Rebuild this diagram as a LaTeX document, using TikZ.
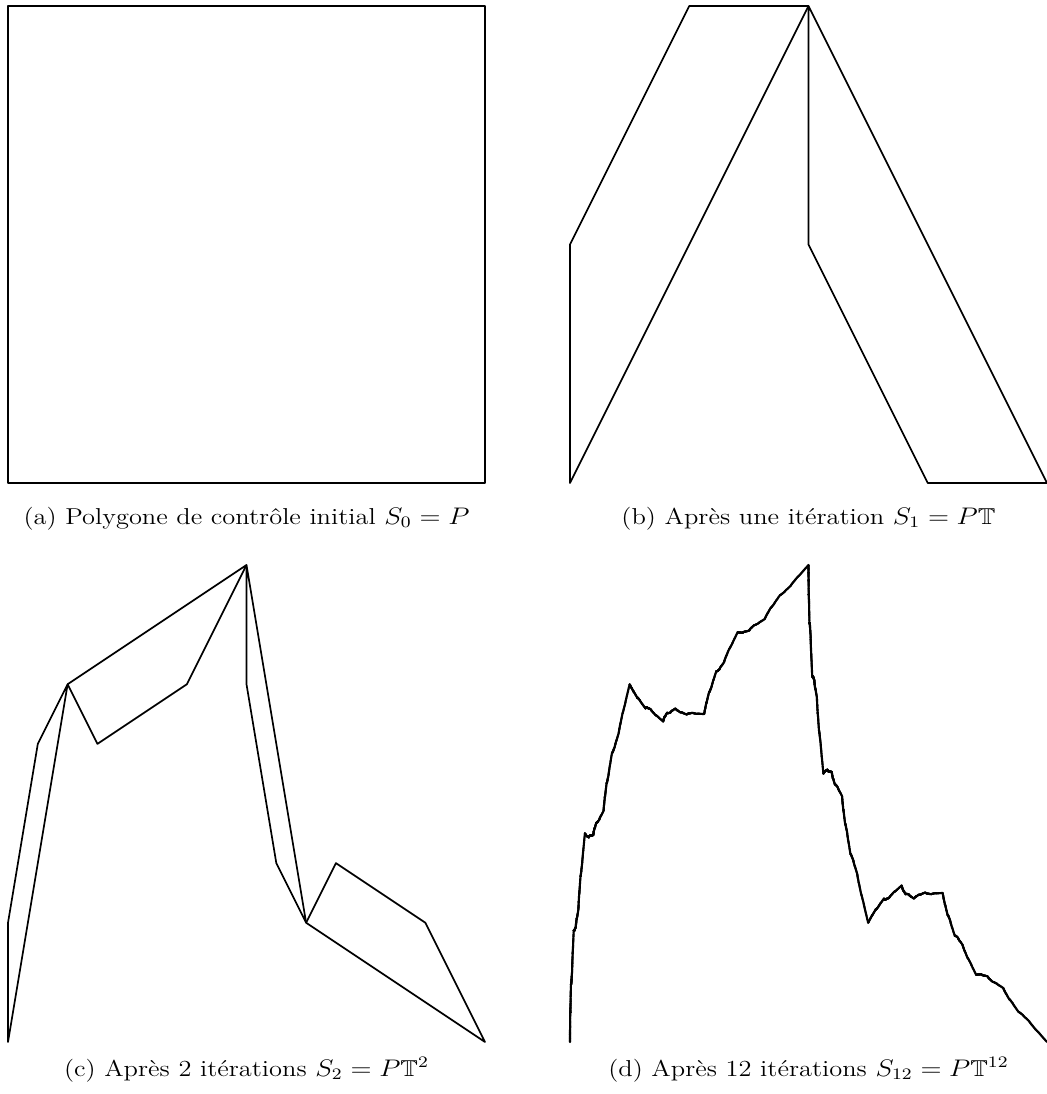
\documentclass[tikz,border=0pt]{standalone}
\usepackage{amssymb}
\usepackage{graphicx}
% leaf: closed control polygon of 4 points (coordinates in sp, y up)
\def\leafquad#1#2#3#4#5#6#7#8{%
  \pgfpathmoveto{\pgfqpoint{#1sp}{#2sp}}%
  \pgfpathlineto{\pgfqpoint{#3sp}{#4sp}}%
  \pgfpathlineto{\pgfqpoint{#5sp}{#6sp}}%
  \pgfpathlineto{\pgfqpoint{#7sp}{#8sp}}%
  \pgfpathclose
  \pgfusepath{stroke}%
}
% subdivision: T0 = [X0, (X0+X1)/2, (3X1+X2)/4, (X1+X2)/2]
%              T1 = [(X1+X2)/2, (X0+X1+X2+X3)/4, (X0+3X3)/4, X3]
\def\subdiv#1#2#3#4#5#6#7#8#9{%
  \ifnum#1=0
    \def\subdivnext{\leafquad{#2}{#3}{#4}{#5}{#6}{#7}{#8}{#9}}%
  \else
    \edef\subdivnext{%
      \noexpand\subdiv{\the\numexpr#1-1\relax}%
        {#2}{#3}%
        {\the\numexpr(#2+#4)/2\relax}{\the\numexpr(#3+#5)/2\relax}%
        {\the\numexpr(3*#4+#6)/4\relax}{\the\numexpr(3*#5+#7)/4\relax}%
        {\the\numexpr(#4+#6)/2\relax}{\the\numexpr(#5+#7)/2\relax}%
      \noexpand\subdiv{\the\numexpr#1-1\relax}%
        {\the\numexpr(#4+#6)/2\relax}{\the\numexpr(#5+#7)/2\relax}%
        {\the\numexpr(#2+#4+#6+#8)/4\relax}{\the\numexpr(#3+#5+#7+#9)/4\relax}%
        {\the\numexpr(#2+3*#8)/4\relax}{\the\numexpr(#3+3*#9)/4\relax}%
        {#8}{#9}%
    }%
  \fi
  \subdivnext
}
\def\sidesp{15630336}% 238.5pt = 477px
\def\startcurve#1{\subdiv{#1}{0}{0}{0}{\sidesp}{\sidesp}{\sidesp}{\sidesp}{0}}
\newcommand\captext[1]{\scalebox{1.15}[1]{#1}}
\tikzset{
  curvestyle/.style={line width=0.85pt, line join=round, line cap=round, black},
  captionstyle/.style={anchor=base, inner sep=0pt, font=\fontsize{11.5}{14}\selectfont}
}
\begin{document}
\begin{tikzpicture}[x=0.5pt, y=-0.5pt]
\useasboundingbox (0,0) rectangle (1046,1094);
\begin{scope}[shift={(8,483)}, curvestyle] \startcurve{0} \end{scope}
\begin{scope}[shift={(570,483)}, curvestyle] \startcurve{1} \end{scope}
\begin{scope}[shift={(8,1042)}, curvestyle] \startcurve{2} \end{scope}
\begin{scope}[shift={(570,1042)}, curvestyle, line width=1.05pt] \startcurve{12} \end{scope}
\node[captionstyle] (capa) at (246.5,524) {\captext{(a) Polygone de contr\^ole initial $S_0 = P$}};
\node[captionstyle] (capb) at (808.5,524) {\captext{(b) Apr\`es une it\'eration $S_1 = P\mathbb{T}$}};
\node[captionstyle] (capc) at (246.5,1076) {\captext{(c) Apr\`es 2 it\'erations $S_2 = P\mathbb{T}^2$}};
\node[captionstyle] (capd) at (808.5,1076) {\captext{(d) Apr\`es 12 it\'erations $S_{12} = P\mathbb{T}^{12}$}};
\end{tikzpicture}
\end{document}
